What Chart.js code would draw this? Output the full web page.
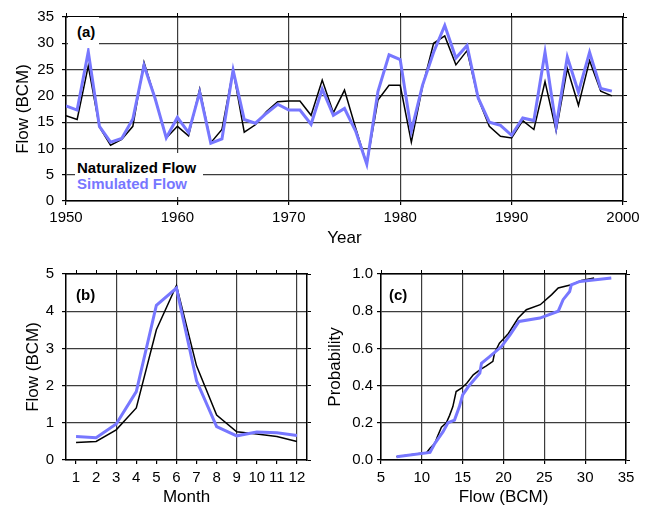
<!DOCTYPE html>
<html>
<head>
<meta charset="utf-8">
<script src="https://cdn.jsdelivr.net/npm/chart.js@4.4.1/dist/chart.umd.min.js"></script>
<style>
    body { margin: 0; background: #fff; width: 651px; height: 509px; position: relative; overflow: hidden; font-family: 'Liberation Sans', Arial, sans-serif; }
    canvas { position: absolute; }
    .tag { position: absolute; font-weight: bold; font-size: 15px; line-height: 16px; color: #000; white-space: nowrap; }
    .boxed { background: #fff; }
</style>
</head>
<body>
<canvas id="annualChart" width="651" height="250" style="left:0;top:0"></canvas>
<canvas id="monthlyChart" width="320" height="259" style="left:0;top:250px"></canvas>
<canvas id="cdfChart" width="331" height="259" style="left:320px;top:250px"></canvas>

<div class="tag boxed" style="left:67.5px;top:17px;width:22px;height:24px;padding:7px 0 0 9.5px">(a)</div>
<div class="tag boxed" style="left:75px;top:153px;width:126px;height:37px;padding:7px 0 0 2px">
    <div>Naturalized Flow</div>
    <div style="color:#7777ff">Simulated Flow</div>
</div>
<div class="tag" style="left:76px;top:287px">(b)</div>
<div class="tag" style="left:389px;top:287px">(c)</div>

<script>
// annual flow, 1950-1999 (BCM)
const years = Array.from({ length: 50 }, (_, i) => 1950 + i);
const naturalizedAnnual = [16.2, 15.5, 25.7, 14.1, 10.6, 11.7, 14.2, 26.4, 19.5, 12.0,
    14.2, 12.4, 21.3, 11.1, 13.6, 24.9, 13.1, 14.5, 17.0, 18.9,
    19.0, 19.0, 16.3, 23.0, 16.8, 21.1, 13.9, 7.0, 19.2, 22.0,
    22.0, 11.2, 21.7, 30.0, 31.4, 25.9, 28.6, 19.5, 14.2, 12.3,
    12.0, 15.3, 13.6, 22.7, 13.3, 25.2, 18.2, 26.7, 20.9, 20.0];
const simulatedAnnual = [18.1, 17.3, 28.4, 14.2, 11.2, 11.9, 15.6, 25.8, 19.5, 12.0,
    15.9, 13.0, 20.7, 11.0, 11.8, 24.9, 15.5, 14.8, 16.7, 18.4,
    17.3, 17.3, 14.6, 21.3, 16.3, 17.6, 13.3, 7.0, 20.8, 27.8,
    26.9, 13.3, 22.0, 28.3, 33.4, 27.2, 29.6, 19.6, 15.0, 14.4,
    12.5, 15.8, 15.3, 28.3, 14.2, 27.4, 20.7, 28.3, 21.4, 20.9];

// mean monthly flow (BCM)
const months = ['1', '2', '3', '4', '5', '6', '7', '8', '9', '10', '11', '12'];
const naturalizedMonthly = [0.47, 0.50, 0.81, 1.40, 3.50, 4.69, 2.53, 1.21, 0.76, 0.70, 0.63, 0.50];
const simulatedMonthly = [0.63, 0.60, 0.97, 1.84, 4.16, 4.62, 2.13, 0.90, 0.65, 0.75, 0.73, 0.66];

// cumulative probability curves
const naturalizedCdfFlow = [6.9, 10.6, 11.0, 11.6, 11.9, 12.4, 13.0, 13.4, 13.8, 14.2, 14.85, 15.5, 16.3, 17.1,
    17.9, 18.7, 18.9, 19.5, 19.9, 20.6, 21.8, 22.8, 24.5, 25.9, 26.7, 28.3, 29.55, 31.1];
const naturalizedCdfProb = [0.018, 0.04, 0.063, 0.09, 0.125, 0.176, 0.20, 0.24, 0.287, 0.368, 0.386, 0.413, 0.458, 0.485,
    0.506, 0.53, 0.575, 0.628, 0.646, 0.68, 0.763, 0.808, 0.835, 0.889, 0.925, 0.942, 0.965, 0.978];
const simulatedCdfFlow = [6.9, 11.0, 11.6, 12.6, 13.2, 14.0, 14.6, 15.0, 15.7, 17.1, 17.3, 18.3, 19.75, 20.8,
    21.9, 24.45, 26.7, 27.3, 28.1, 28.3, 29.35, 33.2];
const simulatedCdfProb = [0.018, 0.041, 0.09, 0.152, 0.20, 0.215, 0.287, 0.35, 0.395, 0.467, 0.52, 0.556, 0.61, 0.673,
    0.745, 0.763, 0.80, 0.862, 0.906, 0.942, 0.96, 0.978];

const simBlue = '#7777ff';
const gridColor = '#3c3c3c';
const tickFont = { size: 15 };
const titleFont = { size: 17 };

Chart.defaults.font.family = "'Liberation Sans', Arial, sans-serif";
Chart.defaults.color = '#000';

const toPoints = (xs, ys) => xs.map((x, i) => ({ x: x, y: ys[i] }));

function lineSet(label, data, color, width) {
    return { label: label, data: data, borderColor: color, borderWidth: width, pointRadius: 0, tension: 0, fill: false };
}

// frame-only axis for the top / right edges, just the border and outside ticks
function edgeAxis(position, extra, size) {
    return Object.assign({
        position: position,
        axis: (position === 'top') ? 'x' : 'y',
        ticks: Object.assign({ display: false }, extra.ticks || {}),
        grid: { drawOnChartArea: false, tickLength: 4, color: '#000' },
        border: { color: '#000', width: 1.5 },
        afterFit: s => { if (position === 'top') s.height = size; else s.width = size; }
    }, extra.base);
}

function baseOptions(padding, scales) {
    return {
        responsive: false,
        animation: false,
        layout: { padding: padding },
        plugins: { legend: { display: false }, tooltip: { enabled: false } },
        scales: scales
    };
}

new Chart(document.getElementById('annualChart'), {
    type: 'line',
    data: {
        datasets: [
            lineSet('Simulated Flow', toPoints(years, simulatedAnnual), simBlue, 3),
            lineSet('Naturalized Flow', toPoints(years, naturalizedAnnual), '#000', 1.5)
        ]
    },
    options: baseOptions({ top: 14, right: 28, left: 0, bottom: 0 }, {
        x: {
            type: 'linear', min: 1950, max: 2000,
            ticks: { stepSize: 10, padding: 4, font: tickFont, callback: v => String(v) },
            grid: { color: gridColor, lineWidth: 1.2, tickLength: 4, tickColor: '#000' },
            border: { color: '#000', width: 1.5 },
            title: { display: true, text: 'Year', font: titleFont, padding: { top: 0, bottom: 1 } },
            afterFit: s => { s.height = 49; }
        },
        y: {
            min: 0, max: 35,
            ticks: { stepSize: 5, padding: 8, font: tickFont },
            grid: { color: gridColor, lineWidth: 1.2, tickLength: 4, tickColor: '#000' },
            border: { color: '#000', width: 1.5 },
            title: { display: true, text: 'Flow (BCM)', font: titleFont, padding: { top: 13, bottom: 0 } },
            afterFit: s => { s.width = 66; }
        },
        xTop: edgeAxis('top', { base: { type: 'linear', min: 1950, max: 2000 }, ticks: { stepSize: 10 } }, 0),
        yRight: edgeAxis('right', { base: { min: 0, max: 35 }, ticks: { stepSize: 5 } }, 0)
    })
});

new Chart(document.getElementById('monthlyChart'), {
    type: 'line',
    data: {
        labels: months,
        datasets: [
            lineSet('Simulated Flow', simulatedMonthly, simBlue, 3),
            lineSet('Naturalized Flow', naturalizedMonthly, '#000', 1.5)
        ]
    },
    options: baseOptions({ top: 24, right: 13, left: 0, bottom: 0 }, {
        x: {
            offset: true,
            ticks: { padding: 5, font: tickFont, autoSkip: false, maxRotation: 0 },
            // vertical lines only every third month, ticks on every month
            grid: {
                offset: false, lineWidth: 1.2, tickLength: 4, tickColor: '#000',
                color: ctx => ((ctx.index + 1) % 3 === 0) ? gridColor : 'rgba(0,0,0,0)'
            },
            border: { color: '#000', width: 1.5 },
            title: { display: true, text: 'Month', font: titleFont, padding: { top: 0, bottom: 1 } },
            afterFit: s => { s.height = 49; }
        },
        y: {
            min: 0, max: 5,
            ticks: { stepSize: 1, padding: 8, font: tickFont },
            grid: { color: gridColor, lineWidth: 1.2, tickLength: 4, tickColor: '#000' },
            border: { color: '#000', width: 1.5 },
            title: { display: true, text: 'Flow (BCM)', font: titleFont, padding: { top: 23, bottom: 0 } },
            afterFit: s => { s.width = 66; }
        },
        xTop: edgeAxis('top', { base: { type: 'category', offset: true, grid: { offset: false, drawOnChartArea: false, tickLength: 4, color: '#000' } }, ticks: { autoSkip: false } }, 0),
        yRight: edgeAxis('right', { base: { min: 0, max: 5 }, ticks: { stepSize: 1 } }, 0)
    })
});

new Chart(document.getElementById('cdfChart'), {
    type: 'line',
    data: {
        datasets: [
            lineSet('Simulated Flow', toPoints(simulatedCdfFlow, simulatedCdfProb), simBlue, 3),
            lineSet('Naturalized Flow', toPoints(naturalizedCdfFlow, naturalizedCdfProb), '#000', 1.5)
        ]
    },
    options: baseOptions({ top: 24, right: 25, left: 0, bottom: 0 }, {
        x: {
            type: 'linear', min: 5, max: 35,
            ticks: { stepSize: 5, padding: 5, font: tickFont },
            grid: { color: gridColor, lineWidth: 1.2, tickLength: 4, tickColor: '#000' },
            border: { color: '#000', width: 1.5 },
            title: { display: true, text: 'Flow (BCM)', font: titleFont, padding: { top: 0, bottom: 1 } },
            afterFit: s => { s.height = 49; }
        },
        y: {
            min: 0, max: 1,
            ticks: { stepSize: 0.2, padding: 4, font: tickFont, callback: v => Number(v).toFixed(1) },
            grid: { color: gridColor, lineWidth: 1.2, tickLength: 4, tickColor: '#000' },
            border: { color: '#000', width: 1.5 },
            title: { display: true, text: 'Probability', font: titleFont, padding: { top: 5, bottom: 0 } },
            afterFit: s => { s.width = 61; }
        },
        xTop: edgeAxis('top', { base: { type: 'linear', min: 5, max: 35 }, ticks: { stepSize: 5 } }, 0),
        yRight: edgeAxis('right', { base: { min: 0, max: 1 }, ticks: { stepSize: 0.2 } }, 0)
    })
});
</script>
</body>
</html>
